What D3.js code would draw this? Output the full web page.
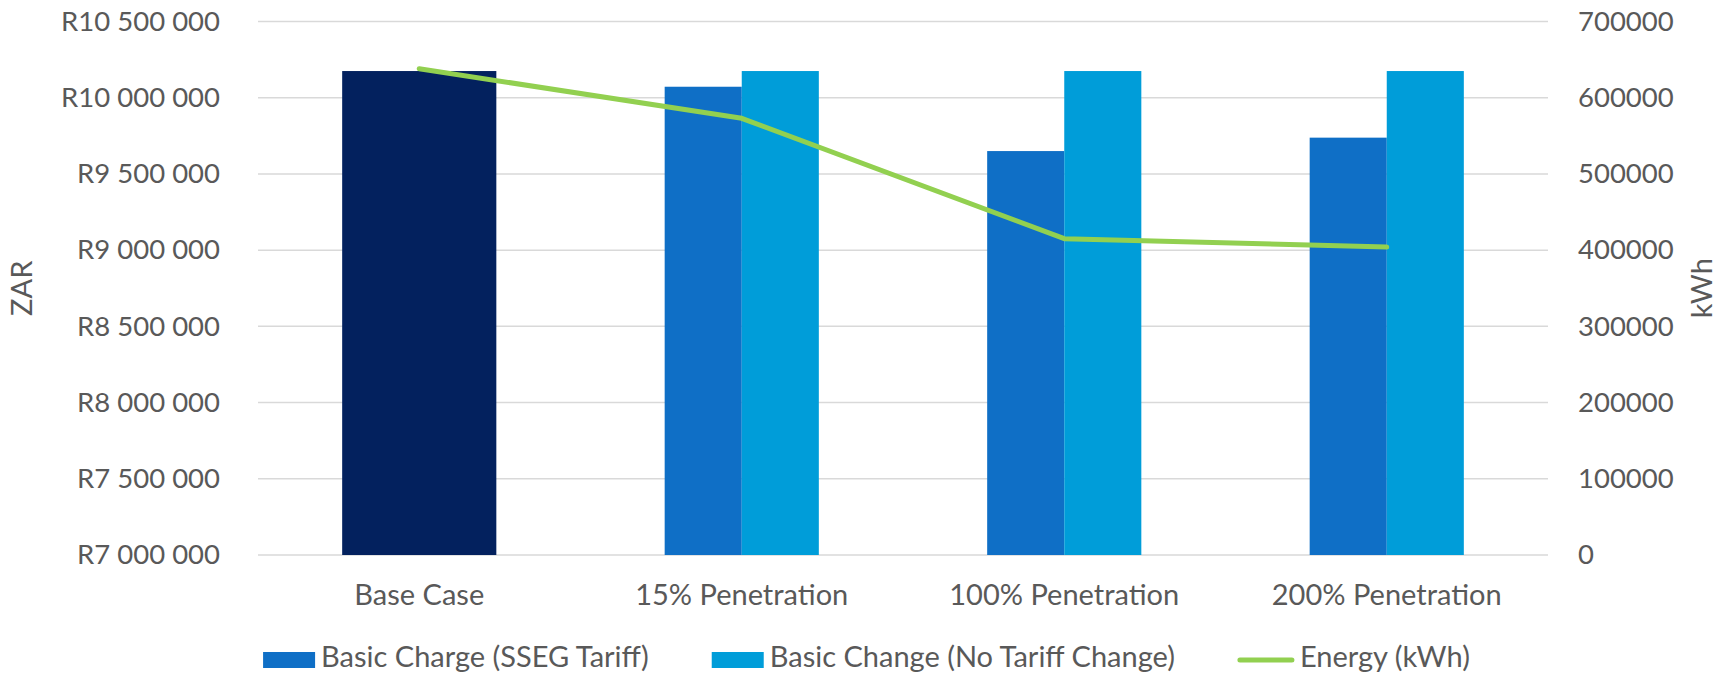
<!DOCTYPE html>
<html>
<head>
<meta charset="utf-8">
<script src="https://cdn.jsdelivr.net/npm/d3@7"></script>
<style>
  html, body { margin: 0; padding: 0; background: #ffffff; }
  svg { display: block; }
  text { font-family: Lato, "Open Sans", sans-serif; fill: #595959; }
</style>
</head>
<body>
<svg id="chart" width="1733" height="676"></svg>
<script>
// ---- data ----
const categories = ["Base Case", "15% Penetration", "100% Penetration", "200% Penetration"];
const baseCaseValues = [10175000, null, null, null];
const ssegTariffValues = [null, 10072000, 9650000, 9738000];
const noTariffChangeValues = [null, 10175000, 10175000, 10175000];
const energyValues = [638000, 573000, 415000, 404000];
const leftTicks = [7000000, 7500000, 8000000, 8500000, 9000000, 9500000, 10000000, 10500000];
const rightTicks = [0, 100000, 200000, 300000, 400000, 500000, 600000, 700000];
const seriesNames = ["Basic Charge (SSEG Tariff)", "Basic Change (No Tariff Change)", "Energy (kWh)"];

// ---- layout ----
const W = 1733, H = 676;
const plot = { left: 258, right: 1548, top: 21.5, bottom: 555 };
const colors = { base: "#03215E", sseg: "#0F6FC6", noTariff: "#009DD9", energy: "#92D050", grid: "#D9D9D9" };
const tickFont = 27.5;
const labelFont = 29;

const svg = d3.select("#chart");

const x = d3.scaleBand().domain(categories).range([plot.left, plot.right]).paddingInner(0).paddingOuter(0);
const yLeft = d3.scaleLinear().domain([7000000, 10500000]).range([plot.bottom, plot.top]);
const yRight = d3.scaleLinear().domain([0, 700000]).range([plot.bottom, plot.top]);

const groupWidth = x.bandwidth() * 0.478;
const sub = d3.scaleBand().domain(["sseg", "noTariff"]).range([0, groupWidth]).padding(0);

// gridlines
svg.append("g")
  .selectAll("line").data(leftTicks).join("line")
  .attr("x1", plot.left).attr("x2", plot.right)
  .attr("y1", d => yLeft(d)).attr("y2", d => yLeft(d))
  .attr("stroke", colors.grid).attr("stroke-width", 1.5);

// left axis
const fmtLeft = v => "R" + d3.format(",")(v).replace(/,/g, " ");
const leftAxis = svg.append("g")
  .attr("transform", `translate(${plot.left - 38},0)`)
  .call(d3.axisLeft(yLeft).tickValues(leftTicks).tickFormat(fmtLeft).tickSize(0).tickPadding(0));
leftAxis.select(".domain").remove();
leftAxis.selectAll("text").style("font-size", tickFont + "px").attr("fill", "#595959").attr("font-family", "Lato");

// right axis
const rightAxis = svg.append("g")
  .attr("transform", `translate(${plot.right + 30},0)`)
  .call(d3.axisRight(yRight).tickValues(rightTicks).tickFormat(d3.format("d")).tickSize(0).tickPadding(0));
rightAxis.select(".domain").remove();
rightAxis.selectAll("text").style("font-size", tickFont + "px").attr("fill", "#595959").attr("font-family", "Lato");

// bottom axis (category labels)
const bottomAxis = svg.append("g")
  .attr("transform", `translate(0,${plot.bottom})`)
  .call(d3.axisBottom(x).tickSize(0).tickPadding(0));
bottomAxis.select(".domain").remove();
bottomAxis.selectAll("text").style("font-size", labelFont + "px").attr("fill", "#595959")
  .attr("font-family", "Lato").attr("dy", null).attr("y", 43).attr("dominant-baseline", "middle");

// bars
const bars = svg.append("g");
bars.selectAll("rect.base").data(categories.map((c, i) => ({ c, v: baseCaseValues[i] })).filter(d => d.v != null))
  .join("rect").attr("class", "base")
  .attr("x", d => x(d.c) + (x.bandwidth() - groupWidth) / 2)
  .attr("width", groupWidth)
  .attr("y", d => yLeft(d.v)).attr("height", d => yLeft(7000000) - yLeft(d.v))
  .attr("fill", colors.base);

bars.selectAll("rect.sseg").data(categories.map((c, i) => ({ c, v: ssegTariffValues[i] })).filter(d => d.v != null))
  .join("rect").attr("class", "sseg")
  .attr("x", d => x(d.c) + (x.bandwidth() - groupWidth) / 2 + sub("sseg"))
  .attr("width", sub.bandwidth())
  .attr("y", d => yLeft(d.v)).attr("height", d => yLeft(7000000) - yLeft(d.v))
  .attr("fill", colors.sseg);

bars.selectAll("rect.nt").data(categories.map((c, i) => ({ c, v: noTariffChangeValues[i] })).filter(d => d.v != null))
  .join("rect").attr("class", "nt")
  .attr("x", d => x(d.c) + (x.bandwidth() - groupWidth) / 2 + sub("noTariff"))
  .attr("width", sub.bandwidth())
  .attr("y", d => yLeft(d.v)).attr("height", d => yLeft(7000000) - yLeft(d.v))
  .attr("fill", colors.noTariff);

// energy line
const line = d3.line().x((d, i) => x(categories[i]) + x.bandwidth() / 2).y(d => yRight(d));
svg.append("path").datum(energyValues)
  .attr("d", line).attr("fill", "none")
  .attr("stroke", colors.energy).attr("stroke-width", 5)
  .attr("stroke-linejoin", "round").attr("stroke-linecap", "round");

// axis titles
svg.append("text").text("ZAR")
  .attr("transform", `translate(25,${(plot.top + plot.bottom) / 2}) rotate(-90)`)
  .attr("text-anchor", "middle").attr("dominant-baseline", "middle")
  .style("font-size", labelFont + "px");
svg.append("text").text("kWh")
  .attr("transform", `translate(1705,${(plot.top + plot.bottom) / 2}) rotate(-90)`)
  .attr("text-anchor", "middle").attr("dominant-baseline", "middle")
  .style("font-size", labelFont + "px");

// legend
const legendY = 660;
const legend = svg.append("g");
const items = [
  { name: seriesNames[0], type: "rect", color: colors.sseg },
  { name: seriesNames[1], type: "rect", color: colors.noTariff },
  { name: seriesNames[2], type: "line", color: colors.energy }
];
const symW = 52, symGap = 6, itemGap = 63;
const itemGroups = items.map(it => {
  const g = legend.append("g");
  if (it.type === "rect") {
    g.append("rect").attr("x", 0).attr("y", legendY - 8).attr("width", symW).attr("height", 16).attr("fill", it.color);
  } else {
    g.append("line").attr("x1", 2).attr("x2", symW + 2).attr("y1", legendY).attr("y2", legendY)
      .attr("stroke", it.color).attr("stroke-width", 5).attr("stroke-linecap", "round");
  }
  const t = g.append("text").text(it.name).attr("x", symW + symGap + (it.type === "line" ? 4 : 0))
    .attr("y", legendY).attr("dominant-baseline", "middle").style("font-size", labelFont + "px");
  return { g, w: symW + symGap + (it.type === "line" ? 4 : 0) + t.node().getComputedTextLength() };
});
const totalW = d3.sum(itemGroups, d => d.w) + itemGap * (itemGroups.length - 1);
let cx = W / 2 - totalW / 2;
itemGroups.forEach(d => { d.g.attr("transform", `translate(${cx},0)`); cx += d.w + itemGap; });
</script>
</body>
</html>
